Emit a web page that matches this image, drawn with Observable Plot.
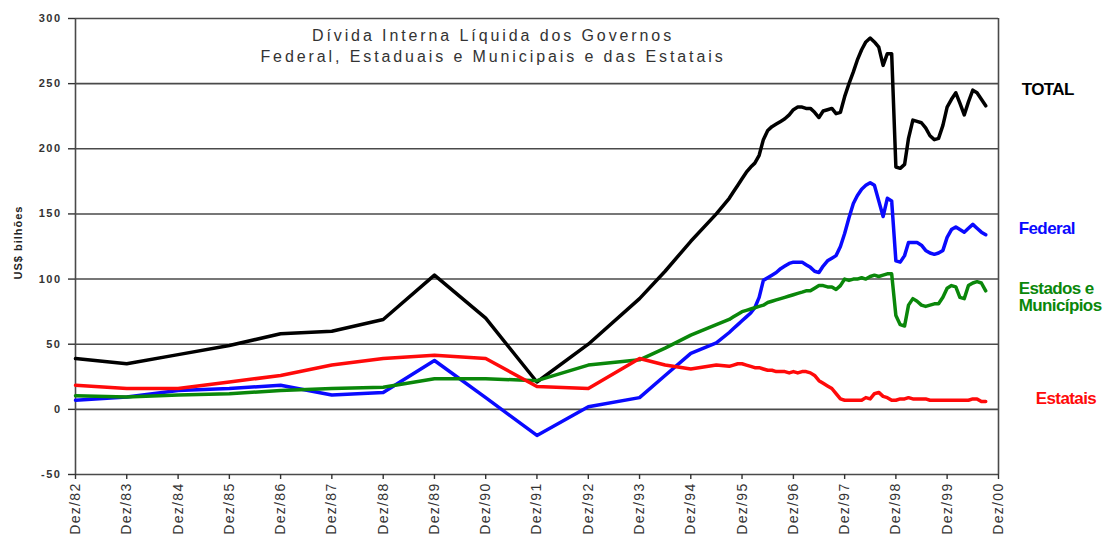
<!DOCTYPE html>
<html><head><meta charset="utf-8">
<script src="https://cdn.jsdelivr.net/npm/d3@7"></script>
<script src="https://cdn.jsdelivr.net/npm/@observablehq/plot@0.6"></script>
<style>
body{margin:0;background:#fff} svg{display:block}
.ttl text{letter-spacing:2.9px}
g[aria-label="x-axis tick label"] text{letter-spacing:1.3px}
g[aria-label="y-axis tick label"] text{letter-spacing:1.5px}
.lbl text{letter-spacing:-0.6px}
.ylab text{letter-spacing:1px}
</style>
</head><body><div id="chart"></div>
<script>
const dates = ["1982-12","1983-12","1984-12","1985-12","1986-12","1987-12","1988-12","1989-12","1990-12","1991-12","1992-12","1993-12","1994-06","1994-12","1995-06",
"1995-09","1995-10","1995-11","1995-12",
"1996-01","1996-02","1996-03","1996-04","1996-05","1996-06","1996-07","1996-08","1996-09","1996-10","1996-11","1996-12",
"1997-01","1997-02","1997-03","1997-04","1997-05","1997-06","1997-07","1997-08","1997-09","1997-10","1997-11","1997-12",
"1998-01","1998-02","1998-03","1998-04","1998-05","1998-06","1998-07","1998-08","1998-09","1998-10","1998-11","1998-12",
"1999-01","1999-02","1999-03","1999-04","1999-05","1999-06","1999-07","1999-08","1999-09","1999-10","1999-11","1999-12",
"2000-01","2000-02","2000-03","2000-04","2000-05","2000-06","2000-07","2000-08","2000-09"];

const total = [39,35,42,49,58,60,69,103,70,21,50,85,106,129,150,
162,167,172,177,182,186,189,195,207,214,
217,219,221,223,226,230,232,232,231,231,
228,224,229,230,231,227,228,240,250,259,
268,276,282,285,282,278,264,273,273,186,
185,188,208,222,221,220,216,210,207,208,
218,232,238,243,235,226,236,245,243,238,
233];

const federal = [7,9.5,14.5,16,18.5,11,13,37.5,9,-20,2,9,26,43,51,
59,62,65,68,71,74,78,86,99,101,
103,105,108,110,112,113,113,113,111,109,
106,105,110,114,116,118,125,135,147,158,
164,169,172,174,172,160,148,162,160,114,
113,118,128,128,128,126,122,120,119,120,
122,132,138,140,138,136,139,142,139,136,
134];

const estados = [10.5,9.5,11,12,14.5,16,17,23.5,23.5,22,34,38,47,57,65,
69,71,73,75,76,77,78,79,80,82,
83,84,85,86,87,88,89,90,91,91,
93,95,95,94,94,92,95,100,99,100,
100,101,100,102,103,102,103,104,104,72,
65,64,80,85,83,80,79,80,81,81,
86,93,95,94,86,85,95,97,98,97,
91];

const estatais = [18.5,16,16,21,26,34,39,41.5,39,17.5,16,39,34,31,34,
33,34,35,35,34,33,32,32,31,30,
30,29,29,29,28,29,28,29,29,28,
26,22,20,18,16,12,8,7,7,7,
7,7,9,8,12,13,10,9,7,7,
8,8,9,8,8,8,8,7,7,7,
7,7,7,7,7,7,7,8,8,6,
6];

const seriesNames = ["TOTAL","Federal","Estados e\nMunicípios","Estatais"];
const seriesValues = [total, federal, estados, estatais];
const seriesColors = ["#000000","#0a0aff","#0a870a","#ff0a0a"];

const yTicks = [-50,0,50,100,150,200,250,300];
const xTickDates = ["1982-12","1983-12","1984-12","1985-12","1986-12","1987-12","1988-12","1989-12","1990-12","1991-12","1992-12","1993-12","1994-12","1995-12","1996-12","1997-12","1998-12","1999-12","2000-12"];
const xTickLabels = ["Dez/82","Dez/83","Dez/84","Dez/85","Dez/86","Dez/87","Dez/88","Dez/89","Dez/90","Dez/91","Dez/92","Dez/93","Dez/94","Dez/95","Dez/96","Dez/97","Dez/98","Dez/99","Dez/00"];

const titleText = "Dívida Interna Líquida dos Governos\nFederal, Estaduais e Municipais e das Estatais";
const yLabel = "US$ bilhões";

const parse = d3.utcParse("%Y-%m");
const tickDates = xTickDates.map(parse);
const labelByTime = new Map(tickDates.map((d, i) => [+d, xTickLabels[i]]));

const rows = [];
seriesNames.forEach((name, s) => {
  seriesValues[s].forEach((v, i) => rows.push({date: parse(dates[i]), value: v, series: name}));
});
const lastRows = seriesNames.map((name, s) => ({
  date: parse(dates[dates.length - 1]),
  value: seriesValues[s][seriesValues[s].length - 1],
  series: name
}));
// label offsets (px) relative to each series' last point
const labelDx = [36, 33, 33, 50];
const labelDy = [-17, -6, 6, -3];

const font = "'Liberation Sans', Arial, sans-serif";

const chart = Plot.plot({
  width: 1109,
  height: 538,
  marginLeft: 75,
  marginRight: 111,
  marginTop: 18,
  marginBottom: 64,
  style: {fontFamily: font, background: "#fff", overflow: "visible"},
  x: {type: "utc", domain: [tickDates[0], tickDates[tickDates.length - 1]]},
  y: {domain: [-50, 300]},
  color: {domain: seriesNames, range: seriesColors},
  marks: [
    Plot.ruleY(yTicks, {stroke: "#4a4a4a", strokeWidth: 1.6}),
    Plot.ruleX([tickDates[0], tickDates[tickDates.length - 1]], {stroke: "#4a4a4a", strokeWidth: 1.6}),
    Plot.line(rows, {x: "date", y: "value", z: "series", stroke: "series", strokeWidth: 3.5, strokeLinejoin: "round", strokeLinecap: "round"}),
    Plot.axisY({ticks: yTicks, tickSize: 7, tickPadding: 7, fontSize: 11, fontWeight: "bold", fill: "#333", stroke: "#333", strokeWidth: 1.4, label: null, tickFormat: d => String(d)}),
    Plot.axisX({ticks: tickDates, tickSize: 5, tickPadding: 3, tickRotate: -90, fontSize: 14, fill: "#333", stroke: "#333", strokeWidth: 1.4, label: null, tickFormat: d => labelByTime.get(+d)}),
    Plot.text([titleText], {className: "ttl", frameAnchor: "top", dx: -44, dy: 7, lineAnchor: "top", lineHeight: 1.35, fontSize: 16, fill: "#333"}),
    Plot.text([yLabel], {className: "ylab", frameAnchor: "left", dx: -57, dy: -4, rotate: -90, textAnchor: "middle", fontSize: 11, fontWeight: "bold", fill: "#222"}),
    ...lastRows.map((r, s) => Plot.text([r], {className: "lbl", x: "date", y: "value", text: "series", fill: seriesColors[s], textAnchor: "start", dx: labelDx[s], dy: labelDy[s], fontSize: 17, fontWeight: "bold", lineHeight: 1.05}))
  ]
});
document.getElementById("chart").appendChild(chart);
</script>
</body></html>
